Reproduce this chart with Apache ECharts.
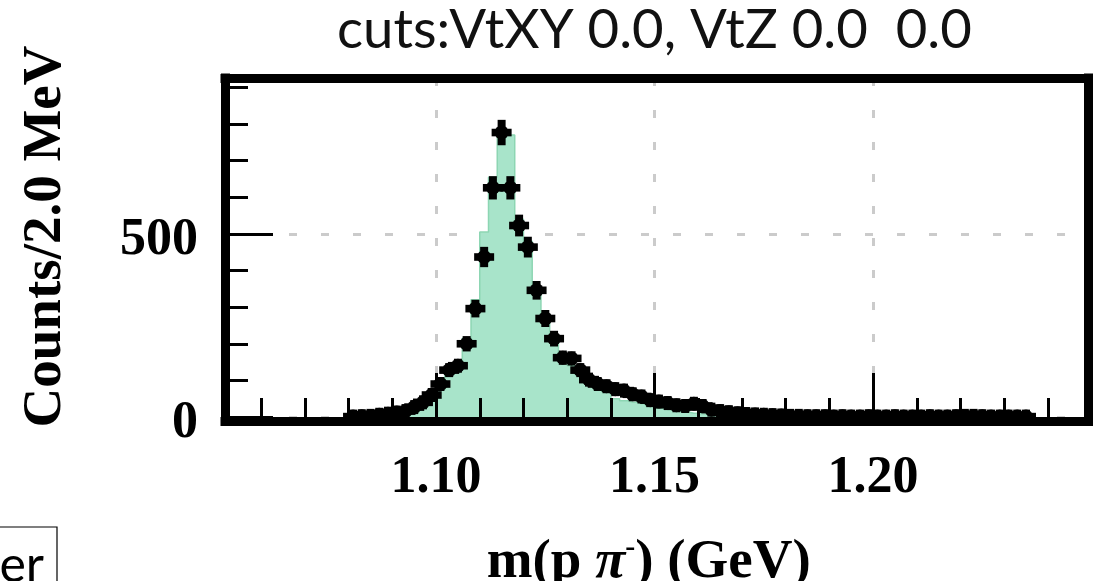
<!DOCTYPE html>
<html>
<head>
<meta charset="utf-8">
<script src="https://cdn.jsdelivr.net/npm/echarts@6/dist/echarts.min.js"></script>
<style>
  html, body { margin: 0; padding: 0; background: #fff; }
  #chart { width: 1102px; height: 581px; }
</style>
</head>
<body>
<div id="chart"></div>
<script>
// Invariant-mass histogram of p pi- pairs, 2 MeV bins (bin centres in GeV)
const dataBinCenters = [
  1.081, 1.083, 1.085, 1.087, 1.089, 1.091, 1.093, 1.095, 1.097, 1.099,
  1.101, 1.103, 1.105, 1.107, 1.109, 1.111, 1.113, 1.115, 1.117, 1.119,
  1.121, 1.123, 1.125, 1.127, 1.129, 1.131, 1.133, 1.135, 1.137, 1.139,
  1.141, 1.143, 1.145, 1.147, 1.149, 1.151, 1.153, 1.155, 1.157, 1.159,
  1.161, 1.163, 1.165, 1.167, 1.169, 1.171, 1.173, 1.175, 1.177, 1.179,
  1.181, 1.183, 1.185, 1.187, 1.189, 1.191, 1.193, 1.195, 1.197, 1.199,
  1.201, 1.203, 1.205, 1.207, 1.209, 1.211, 1.213, 1.215, 1.217, 1.219,
  1.221, 1.223, 1.225, 1.227, 1.229, 1.231, 1.233, 1.235
];
const dataCounts = [
  1, 2, 3, 6, 9, 12, 16, 27, 40, 60,
  90, 128, 140, 200, 296, 437, 626, 777, 626, 523,
  464, 346, 269, 214, 162, 160, 128, 102, 90, 84,
  76, 72, 62, 56, 46, 42, 38, 32, 30, 36,
  30, 20, 16, 13, 10, 8, 7, 6, 5, 4,
  3, 3, 2, 2, 2, 1, 2, 1, 1, 2,
  1, 1, 2, 1, 1, 1, 2, 1, 1, 2,
  3, 3, 2, 1, 1, 1, 1, 1
];

// Simulated signal shape (filled histogram)
const mcBinCenters = [
  1.091, 1.093, 1.095, 1.097, 1.099, 1.101, 1.103, 1.105, 1.107, 1.109,
  1.111, 1.113, 1.115, 1.117, 1.119, 1.121, 1.123, 1.125, 1.127, 1.129,
  1.131, 1.133, 1.135, 1.137, 1.139, 1.141, 1.143, 1.145, 1.147, 1.149,
  1.151, 1.153, 1.155, 1.157, 1.159, 1.161, 1.163, 1.165, 1.167, 1.169,
  1.171, 1.173, 1.175
];
const mcCounts = [
  3, 6, 12, 25, 45, 75, 118, 150, 215, 320,
  505, 655, 775, 770, 540, 480, 350, 275, 210, 165,
  140, 115, 95, 80, 68, 50, 44, 40, 36, 30,
  24, 20, 16, 13, 10, 8, 6, 5, 4, 3,
  2, 2, 1
];

const xTickLabels = ['1.10', '1.15', '1.20'];
const yTickLabels = ['0', '500'];

const titleText = 'cuts:VtXY 0.0, VtZ 0.0  0.0';
const yTitle = 'Counts/2.0 MeV';

// axis ranges
const X_MIN = 1.0517, X_MAX = 1.2493;
const Y_MIN = -11, Y_MAX = 926;

const FRAME = { color: '#000', width: 9, cap: 'square' };
const SERIF = '"Liberation Serif", "Times New Roman", serif';

const xBase = {
  type: 'value', gridIndex: 0, min: X_MIN, max: X_MAX,
  minInterval: 0.05, maxInterval: 0.05
};
const yBase = {
  type: 'value', gridIndex: 0, min: Y_MIN, max: Y_MAX,
  minInterval: 500, maxInterval: 500
};
const noAxisParts = {
  axisLine: { show: false }, axisTick: { show: false },
  axisLabel: { show: false }, splitLine: { show: false }, minorTick: { show: false }
};
const dashed = { color: '#cbcbcb', width: 3, type: [8, 24] };

const option = {
  animation: false,
  backgroundColor: '#fff',
  title: {
    text: titleText,
    left: 337, top: 3, padding: 0,
    textStyle: { fontFamily: 'Lato', fontSize: 54.5, fontWeight: 'normal', color: '#111' }
  },
  grid: {
    left: 225, right: 13.5, top: 78, bottom: 160,
    containLabel: false, outerBoundsMode: 'none'
  },
  xAxis: [
    // dashed grid, drawn under the histogram
    Object.assign({}, xBase, noAxisParts, { position: 'bottom', z: 0,
      splitLine: { show: true, lineStyle: dashed } }),
    // frame, ticks and labels on top of the data
    Object.assign({}, xBase, { position: 'bottom', z: 5,
      axisLine: { show: true, onZero: false, lineStyle: FRAME },
      axisTick: { show: true, inside: true, length: 48, lineStyle: { color: '#000', width: 3 } },
      minorTick: { show: true, splitNumber: 5, length: 23, lineStyle: { color: '#000', width: 3 } },
      splitLine: { show: false },
      axisLabel: {
        show: true, margin: 32, color: '#000',
        fontFamily: SERIF, fontSize: 52, fontWeight: 'bold',
        formatter: v => { const s = v.toFixed(2); return xTickLabels.includes(s) ? s : ''; }
      },
      name: '{a|m(p }{pi|π}{sup|-}{a|) (GeV)}',
      nameLocation: 'middle', nameGap: 112,
      nameTextStyle: {
        padding: [0, 16, 0, 0],
        rich: {
          a: { fontFamily: SERIF, fontSize: 55, fontWeight: 'bold', color: '#000', lineHeight: 60 },
          pi: { fontFamily: SERIF, fontSize: 55, fontWeight: 'bold', fontStyle: 'italic', color: '#000', lineHeight: 60 },
          sup: { fontFamily: SERIF, fontSize: 30, fontWeight: 'bold', color: '#000', lineHeight: 30, verticalAlign: 'top' }
        }
      }
    }),
    Object.assign({}, xBase, noAxisParts, { position: 'top', z: 5,
      axisLine: { show: true, onZero: false, lineStyle: FRAME } })
  ],
  yAxis: [
    Object.assign({}, yBase, noAxisParts, { position: 'left', z: 0,
      splitLine: { show: true, lineStyle: dashed } }),
    Object.assign({}, yBase, { position: 'left', z: 5,
      axisLine: { show: true, onZero: false, lineStyle: FRAME },
      axisTick: { show: true, inside: true, length: 48, lineStyle: { color: '#000', width: 3 } },
      minorTick: { show: true, splitNumber: 5, length: 23, lineStyle: { color: '#000', width: 3 } },
      splitLine: { show: false },
      axisLabel: {
        show: true, margin: 27, color: '#000',
        verticalAlign: 'top', lineHeight: 14,
        fontFamily: SERIF, fontSize: 52, fontWeight: 'bold',
        formatter: v => { const s = String(Math.round(v)); return yTickLabels.includes(s) ? s : ''; }
      },
      name: yTitle, nameLocation: 'middle', nameRotate: 90, nameGap: 152,
      nameTextStyle: { fontFamily: SERIF, fontSize: 55, fontWeight: 'bold', color: '#000', padding: [0, 0, 0, 26] }
    }),
    Object.assign({}, yBase, noAxisParts, { position: 'right', z: 5,
      axisLine: { show: true, onZero: false, lineStyle: FRAME } })
  ],
  graphic: [
    { type: 'rect', silent: true, z: 10,
      shape: { x: -20, y: 527, width: 77, height: 80 },
      style: { fill: '#fff', stroke: '#000', lineWidth: 1.2 } },
    { type: 'text', silent: true, z: 11, x: 44, y: 566,
      style: { text: 'er', font: '50px Lato', textAlign: 'right', textVerticalAlign: 'middle', fill: '#000' } }
  ],
  series: [
    {
      type: 'line', name: 'MC', xAxisIndex: 0, yAxisIndex: 0, z: 2,
      step: 'middle', showSymbol: false, symbol: 'none',
      data: mcBinCenters.map((x, i) => [x, mcCounts[i]]),
      lineStyle: { color: '#8dd6b3', width: 1.5 },
      areaStyle: { color: '#a8e4ca', opacity: 1 }
    },
    {
      type: 'custom', name: 'data', xAxisIndex: 0, yAxisIndex: 0, z: 3,
      data: dataBinCenters.map((x, i) => [x, dataCounts[i]]),
      encode: { x: 0, y: 1 },
      renderItem: (params, api) => {
        const x = api.value(0), y = api.value(1);
        const err = Math.sqrt(y);
        const c = api.coord([x, y]);
        const hi = api.coord([x, y + err]);
        const lo = api.coord([x, y - err]);
        const top = Math.min(hi[1] - 2.5, c[1] - 7);
        const bot = Math.max(lo[1] + 2.5, c[1] + 7);
        const fill = { fill: '#000' };
        return {
          type: 'group',
          children: [
            { type: 'rect', shape: { x: c[0] - 4, y: top, width: 8, height: bot - top }, style: fill },
            { type: 'rect', shape: { x: c[0] - 10, y: c[1] - 3.8, width: 20, height: 7.6 }, style: fill },
            { type: 'circle', shape: { cx: c[0], cy: c[1], r: 7 }, style: fill }
          ]
        };
      }
    }
  ]
};

const chart = echarts.init(document.getElementById('chart'));
chart.setOption(option);
</script>
</body>
</html>
